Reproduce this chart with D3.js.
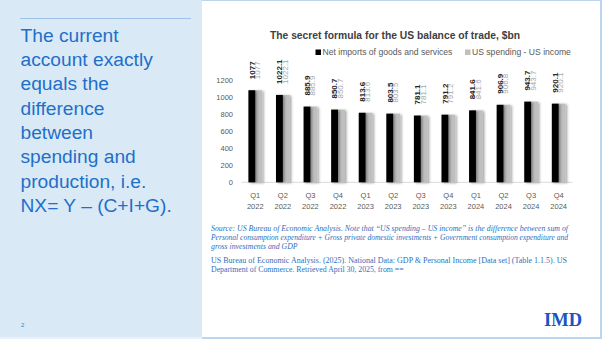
<!DOCTYPE html>
<html><head><meta charset="utf-8">
<script src="https://cdn.jsdelivr.net/npm/d3@7"></script>
<style>html,body{margin:0;padding:0;background:#fff;overflow:hidden}</style>
</head><body>
<svg id="c" width="602" height="339"></svg>
<script>
const categories = ["Q1 2022","Q2 2022","Q3 2022","Q4 2022","Q1 2023","Q2 2023","Q3 2023","Q4 2023","Q1 2024","Q2 2024","Q3 2024","Q4 2024"];
const netImports = [1077, 1022.1, 885.9, 850.7, 813.6, 803.5, 781.1, 791.2, 841.6, 906.9, 943.7, 920.1];
const spendingMinusIncome = [1077, 1022.1, 885.9, 850.7, 813.6, 803.5, 781.1, 791.2, 841.6, 906.8, 943.7, 920.1];
const seriesNames = ["Net imports of goods and services", "US spending - US income"];
const yTicks = [0, 200, 400, 600, 800, 1000, 1200];
const sideText = ["The current","account exactly","equals the","difference","between","spending and","production, i.e.","NX= Y \u2013 (C+I+G)."];
const sourceItalic = [
 "Source: US Bureau of Economic Analysis. Note that \u201cUS spending \u2013 US income\u201d is the difference between sum of",
 "Personal consumption expenditure + Gross private domestic investments + Government consumption expenditure and",
 "gross investments and GDP"];
const citation = [
 "US Bureau of Economic Analysis. (2025). National Data: GDP & Personal Income [Data set] (Table 1.1.5). US",
 "Department of Commerce. Retrieved April 30, 2025, from =="];

const svg = d3.select("#c");
const defs = svg.append("defs");
const f = defs.append("filter").attr("id","sh").attr("x","-50%").attr("y","-10%").attr("width","200%").attr("height","120%");
f.append("feDropShadow").attr("dx",1.6).attr("dy",0.8).attr("stdDeviation",0.8).attr("flood-color","#000").attr("flood-opacity",0.35);

// slide frame
svg.append("rect").attr("x",0).attr("y",0).attr("width",602).attr("height",339).attr("fill","#fff");
svg.append("rect").attr("x",0).attr("y",0).attr("width",202).attr("height",337).attr("fill","#d9eaf6");
svg.append("rect").attr("x",0).attr("y",337).attr("width",202).attr("height",2).attr("fill","#e8f1fa");
svg.append("rect").attr("x",202).attr("y",337).attr("width",400).attr("height",2).attr("fill","#bcd6f0");
svg.append("rect").attr("x",202).attr("y",0).attr("width",400).attr("height",1).attr("fill","#bcd6f0");
svg.append("rect").attr("x",600).attr("y",0).attr("width",2).attr("height",339).attr("fill","#bcd6f0");

// side panel
svg.append("line").attr("x1",20).attr("x2",191).attr("y1",18.5).attr("y2",18.5).attr("stroke","#9cc3e8").attr("stroke-width",1);
svg.append("g").selectAll("text").data(sideText).join("text")
  .attr("x",20.5).attr("y",(d,i)=>35+i*24.3).attr("dy","0.35em")
  .attr("font-family","'Liberation Sans', Arial, sans-serif").attr("font-size",19.2).attr("fill","#1f6fc9")
  .text(d=>d);
svg.append("text").attr("x",21).attr("y",325).attr("dy","0.35em").attr("font-size",6).attr("font-family","'Liberation Sans',sans-serif").attr("fill","#3c7fd0").text("2");

// chart
const x0 = d3.scaleBand().domain(categories).range([241.5, 572.5]).paddingInner(0.5).paddingOuter(0.25);
const x1 = d3.scaleBand().domain([0,1]).range([0, x0.bandwidth()]).padding(0);
const y = d3.scaleLinear().domain([0,1200]).range([182.3, 79.7]);

svg.append("text").attr("x",395).attr("y",35).attr("dy","0.35em").attr("text-anchor","middle")
  .attr("font-family","'Liberation Sans',Arial,sans-serif").attr("font-weight","bold").attr("font-size",10.3)
  .attr("fill","#404040").text("The secret formula for the US balance of trade, $bn");

// legend
const legend = [{x:315.5, c:"#000", t:seriesNames[0]}, {x:465, c:"#bfbfbf", t:seriesNames[1]}];
legend.forEach(l=>{
  svg.append("rect").attr("x",l.x).attr("y",49.5).attr("width",5.5).attr("height",5.5).attr("fill",l.c);
  svg.append("text").attr("x",l.x+7).attr("y",52.3).attr("dy","0.35em").attr("font-size",8.6)
    .attr("font-family","'Liberation Sans',Arial,sans-serif").attr("fill","#595959").text(l.t);
});

// y axis
const yAxis = svg.append("g").attr("transform","translate(236,0)")
  .call(d3.axisLeft(y).tickValues(yTicks).tickFormat(d3.format("d")).tickSize(0).tickPadding(3));
yAxis.select(".domain").remove();
yAxis.selectAll("text").attr("font-size",7.5).attr("font-family","'Liberation Sans',Arial,sans-serif").attr("fill","#595959");

// baseline
svg.append("line").attr("x1",241.5).attr("x2",572.5).attr("y1",y(0)).attr("y2",y(0)).attr("stroke","#d9d9d9").attr("stroke-width",1);

// x labels
const xl = svg.append("g");
categories.forEach(c=>{
  const [q, yr] = c.split(" ");
  const cx = x0(c) + x0.bandwidth()/2;
  const t = xl.append("text").attr("text-anchor","middle").attr("font-size",7.5)
    .attr("font-family","'Liberation Sans',Arial,sans-serif").attr("fill","#595959");
  t.append("tspan").attr("x",cx).attr("y",195).attr("dy","0.35em").text(q);
  t.append("tspan").attr("x",cx).attr("y",206).attr("dy","0.35em").text(yr);
});

// bars
const series = [netImports, spendingMinusIncome];
const colors = ["#000000","#bfbfbf"];
const bars = svg.append("g");
[1,0].forEach(s=>{
  bars.append("g").attr("filter","url(#sh)").selectAll("rect").data(series[s]).join("rect")
    .attr("x",(d,i)=>x0(categories[i])+x1(s))
    .attr("width",x1.bandwidth())
    .attr("y",d=>y(d)).attr("height",d=>y(0)-y(d))
    .attr("fill",colors[s]);
});

// value labels
const lab = svg.append("g");
series.forEach((arr,s)=>{
  lab.selectAll(null).data(arr).join("text")
    .attr("transform",(d,i)=>{
      const cx = x0(categories[i]) + x1(s) + x1.bandwidth()/2 + (s===0? 0 : -1.5);
      return `translate(${cx},${y(d)-11}) rotate(-90)`;
    })
    .attr("dy","0.35em")
    .attr("font-size",8).attr("font-family","'Liberation Sans',Arial,sans-serif")
    .attr("font-weight", s===0 ? "bold" : "normal")
    .attr("fill", s===0 ? "#262626" : "#a6a6a6")
    .text(d=>String(d));
});

// source text
const src = svg.append("g").attr("font-family","'Liberation Serif','Times New Roman',serif").attr("fill","#2e6fc0");
sourceItalic.forEach((t,i)=>{
  src.append("text").attr("x",211).attr("y",228.5+i*9).attr("dy","0.35em").attr("font-size",7.8)
    .attr("font-style","italic").attr("textLength", i<2 ? 357 : null).attr("lengthAdjust","spacingAndGlyphs").text(t);
});
citation.forEach((t,i)=>{
  src.append("text").attr("x",211).attr("y",260.5+i*8.5).attr("dy","0.35em").attr("font-size",7.8)
    .attr("textLength", i===0 ? 356 : null).attr("lengthAdjust","spacingAndGlyphs").text(t);
});

// logo
svg.append("text").attr("x",544).attr("y",325.5).attr("font-family","'Liberation Serif','Times New Roman',serif")
  .attr("font-weight","bold").attr("font-size",19.5).attr("fill","#1a55c4").attr("textLength",38)
  .attr("lengthAdjust","spacingAndGlyphs").text("IMD");
</script>
</body></html>
